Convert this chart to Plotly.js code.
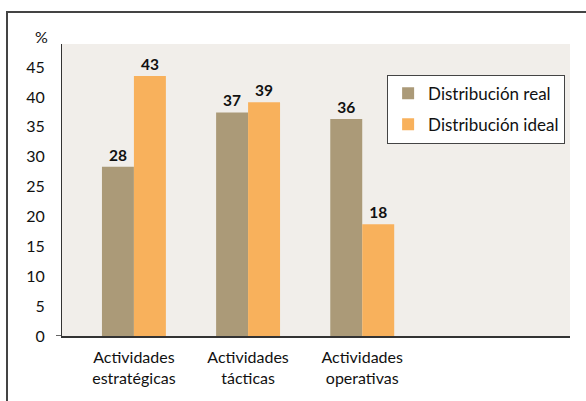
<!DOCTYPE html>
<html>
<head>
<meta charset="utf-8">
<script src="https://cdn.plot.ly/plotly-3.0.1.min.js"></script>
<style>
  html, body { margin: 0; padding: 0; background: #ffffff; }
  #chart { width: 586px; height: 401px; position: absolute; left: 0; top: 0; }
  #frame { position: absolute; left: 6px; top: 11px; width: 620px; height: 420px;
           border-left: 2px solid #444; border-top: 2px solid #444; pointer-events: none; z-index: 5; }
</style>
</head>
<body>
<div id="chart"></div>
<div id="frame"></div>
<script>
const categories = ["Actividades<br>estratégicas", "Actividades<br>tácticas", "Actividades<br>operativas", " "];
const realValues = [28.3, 37.4, 36.3];
const idealValues = [43.5, 39.1, 18.7];
const realLabels = ["28", "37", "36"];
const idealLabels = ["43", "39", "18"];
const yTicks = [0, 5, 10, 15, 20, 25, 30, 35, 40, 45];

const FONT = "Lato, 'Open Sans', sans-serif";

const traces = [
  {
    type: "bar", name: "Distribución real", legendgroup: "real",
    x: categories.slice(0, 3), y: realValues,
    text: realLabels, textposition: "outside", cliponaxis: false,
    textfont: { family: FONT, size: 15.5, color: "#111111", weight: "bold" },
    marker: { color: "#ab9a78" }
  },
  {
    type: "bar", name: "Distribución ideal", legendgroup: "ideal",
    x: categories.slice(0, 3), y: idealValues,
    text: idealLabels, textposition: "outside", cliponaxis: false,
    textfont: { family: FONT, size: 15.5, color: "#111111", weight: "bold" },
    marker: { color: "#f8b15c" }
  }
];

const layout = {
  width: 586, height: 401,
  margin: { l: 62, r: 16, t: 44, b: 65 },
  paper_bgcolor: "#ffffff",
  plot_bgcolor: "#f1eeea",
  font: { family: FONT, size: 15, color: "#111111" },
  barmode: "group",
  bargap: 0.44,
  bargroupgap: 0,
  showlegend: true,
  legend: {
    x: 0.64, y: 0.895, xanchor: "left", yanchor: "top",
    bgcolor: "#ffffff", bordercolor: "#444444", borderwidth: 1,
    font: { family: FONT, size: 17, color: "#111111" },
    traceorder: "grouped", tracegroupgap: 6,
    itemwidth: 30
  },
  xaxis: {
    type: "category",
    categoryorder: "array", categoryarray: categories,
    range: [-0.63, 3.82],
    showgrid: false, zeroline: false,
    showline: true, linecolor: "#333333", linewidth: 1.5,
    ticks: "", ticklabelstandoff: 6,
    tickfont: { family: FONT, size: 16, color: "#111111" }
  },
  yaxis: {
    range: [0, 48.85],
    tickvals: yTicks, ticktext: yTicks.map(String),
    showgrid: false, zeroline: false,
    showline: true, linecolor: "#333333", linewidth: 1,
    ticks: "", ticklabelstandoff: 13,
    tickfont: { family: FONT, size: 16, color: "#111111" }
  },
  shapes: [
    { type: "line", xref: "paper", xsizemode: "pixel", xanchor: 0, x0: -6, x1: 0,
      yref: "y", y0: 0, y1: 0, line: { color: "#333333", width: 1.5 } }
  ],
  annotations: [
    { text: "%", xref: "paper", yref: "paper", x: -0.041, y: 1.027,
      xanchor: "center", yanchor: "middle", showarrow: false,
      font: { family: FONT, size: 16, color: "#111111" } }
  ]
};

Plotly.newPlot("chart", traces, layout, { displayModeBar: false, staticPlot: true });
</script>
</body>
</html>
